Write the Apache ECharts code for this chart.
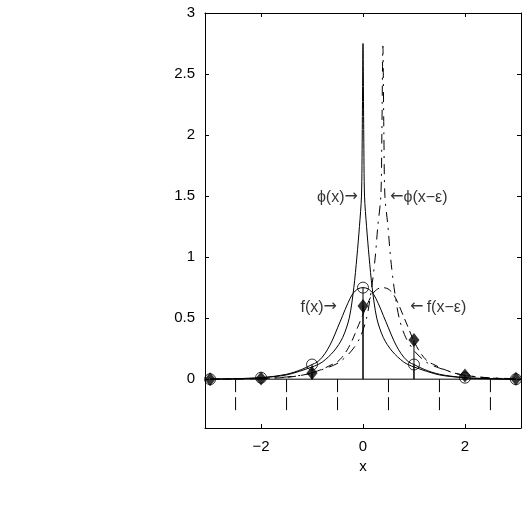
<!DOCTYPE html>
<html>
<head>
<meta charset="utf-8">
<script src="https://cdn.jsdelivr.net/npm/echarts@6/dist/echarts.min.js"></script>
<style>
  html, body { margin: 0; padding: 0; background: #fff; }
  #chart { width: 529px; height: 532px; }
</style>
</head>
<body>
<div id="chart"></div>
<script>
  // phi(x), solid, cusp at 0
  const phiX = [-3, -2.5, -2, -1.5, -1, -0.8, -0.57, -0.4, -0.27, -0.18, -0.12, -0.07, -0.03, -0.015, 0,
    0.015, 0.03, 0.07, 0.12, 0.18, 0.27, 0.4, 0.57, 0.8, 1, 1.5, 2, 2.5, 3]
  const phiY = [0, 0.004, 0.012, 0.035, 0.1, 0.14, 0.23, 0.34, 0.5, 0.75, 1.0, 1.25, 1.5, 2.0, 2.75,
    2.0, 1.5, 1.25, 1.0, 0.75, 0.5, 0.34, 0.23, 0.14, 0.1, 0.035, 0.012, 0.004, 0]

  // phi(x - eps), dash-dot, cusp near 0.39
  const phiShiftX = [-3, -2.11, -1.61, -1.11, -0.66, -0.46, -0.23, -0.06, 0.07, 0.17, 0.24, 0.29, 0.35, 0.37, 0.39,
    0.41, 0.43, 0.49, 0.54, 0.61, 0.71, 0.84, 1.01, 1.24, 1.44, 1.89, 2.39, 2.89, 3]
  const phiShiftY = [0, 0.005, 0.014, 0.04, 0.1, 0.14, 0.23, 0.34, 0.5, 0.75, 1.0, 1.25, 1.5, 2.0, 2.73,
    2.0, 1.5, 1.25, 1.0, 0.75, 0.5, 0.34, 0.23, 0.14, 0.1, 0.04, 0.014, 0.005, 0.004]

  // f(x), solid bell
  const fX = [-3, -2.5, -2, -1.5, -1.2, -1, -0.9, -0.8, -0.7, -0.6, -0.5, -0.4, -0.3, -0.2, -0.1, 0,
    0.1, 0.2, 0.3, 0.4, 0.5, 0.6, 0.7, 0.8, 0.9, 1, 1.2, 1.5, 2, 2.5, 3]
  const fY = [0, 0.004, 0.012, 0.04, 0.08, 0.12, 0.14, 0.18, 0.24, 0.32, 0.42, 0.52, 0.62, 0.7, 0.74, 0.75,
    0.74, 0.7, 0.62, 0.52, 0.42, 0.32, 0.24, 0.18, 0.14, 0.12, 0.08, 0.04, 0.012, 0.004, 0]

  // f(x - eps), dashed bell
  const fShiftX = [-3, -2.5, -2, -1.5, -1.11, -0.81, -0.61, -0.51, -0.41, -0.31, -0.21, -0.11, -0.01, 0.09, 0.19, 0.29,
    0.39, 0.49, 0.59, 0.69, 0.79, 0.89, 0.99, 1.09, 1.19, 1.29, 1.39, 1.59, 1.89, 2.39, 2.89, 3]
  const fShiftY = [0, 0.002, 0.006, 0.015, 0.04, 0.08, 0.12, 0.14, 0.18, 0.24, 0.32, 0.42, 0.52, 0.62, 0.7, 0.74,
    0.75, 0.74, 0.7, 0.62, 0.52, 0.42, 0.32, 0.24, 0.18, 0.14, 0.12, 0.08, 0.04, 0.012, 0.004, 0.003]

  // samples at the integers
  const sampleX = [-3, -2, -1, 0, 1, 2, 3]
  const circleY = [0, 0.012, 0.12, 0.75, 0.12, 0.012, 0]
  const diamondY = [0, 0.005, 0.05, 0.6, 0.32, 0.03, 0.003]

  // baseline and half-integer marks
  const baseX = [-3, 3]
  const halfX = [-2.5, -1.5, -0.5, 0.5, 1.5, 2.5]
  const halfDepth = -0.27

  const xTicks = [-2, 0, 2]
  const yTicks = [0, 0.5, 1, 1.5, 2, 2.5, 3]

  // annotation texts: x, y, rich text, side
  const notes = [
    [-0.1, 1.49, '{t|ϕ(x)}{a|→}', 'left'],
    [0.53, 1.49, '{a|←}{t|ϕ(x−ε)}', 'right'],
    [-0.51, 0.59, '{t|f(x)}{a|→}', 'left'],
    [0.92, 0.59, '{a|←} {t|f(x−ε)}', 'right']
  ]

  const font = 'Liberation Sans, Arial, Helvetica, sans-serif'
  const zip = (xs, ys) => xs.map((x, i) => [x, ys[i]])
  const minus = v => String(v).replace('-', '\u2212')

  function stem (params, api) {
    const p0 = api.coord([api.value(0), 0])
    const p1 = api.coord([api.value(0), api.value(1)])
    return {
      type: 'line',
      shape: {x1: p0[0], y1: p0[1], x2: p1[0], y2: p1[1]},
      style: {stroke: '#000', lineWidth: 1}
    }
  }

  function halfMark (params, api) {
    const p0 = api.coord([api.value(0), 0])
    const p1 = api.coord([api.value(0), api.value(1)])
    return {
      type: 'line',
      shape: {x1: p0[0], y1: p0[1], x2: p1[0], y2: p1[1]},
      style: {stroke: '#000', lineWidth: 1, lineDash: [13, 5]}
    }
  }

  const boxAxis = {
    type: 'value',
    axisLine: {show: true, onZero: false, lineStyle: {color: '#000', width: 1}},
    splitLine: {show: false},
    axisTick: {inside: true, length: 4, lineStyle: {color: '#000'}},
    axisLabel: {show: false}
  }

  const lineBase = {type: 'line', showSymbol: false, smooth: 0.3, silent: true}

  const myChart = echarts.init(document.getElementById('chart'))
  myChart.setOption({
    animation: false,
    backgroundColor: '#fff',
    grid: {left: 205, right: 8, top: 13, bottom: 104},
    xAxis: [
      Object.assign({}, boxAxis, {
        min: -3.1, max: 3.1, position: 'bottom',
        axisTick: {inside: true, length: 4, customValues: xTicks, lineStyle: {color: '#000'}},
        axisLabel: {show: true, customValues: xTicks, formatter: minus, margin: 11,
          color: '#000', fontSize: 15, fontFamily: font},
        name: 'x', nameLocation: 'middle', nameGap: 30,
        nameTextStyle: {color: '#000', fontSize: 15, fontFamily: font}
      }),
      Object.assign({}, boxAxis, {
        min: -3.1, max: 3.1, position: 'top',
        axisTick: {inside: true, length: 4, customValues: xTicks, lineStyle: {color: '#000'}}
      })
    ],
    yAxis: [
      Object.assign({}, boxAxis, {
        min: -0.4, max: 3, position: 'left',
        axisTick: {inside: true, length: 4, customValues: yTicks, lineStyle: {color: '#000'}},
        axisLabel: {show: true, customValues: yTicks, formatter: minus, margin: 10,
          color: '#000', fontSize: 15, fontFamily: font}
      }),
      Object.assign({}, boxAxis, {
        min: -0.4, max: 3, position: 'right',
        axisTick: {inside: true, length: 4, customValues: yTicks, lineStyle: {color: '#000'}}
      })
    ],
    series: [
      Object.assign({}, lineBase, {name: 'baseline', smooth: false, data: baseX.map(x => [x, 0]),
        lineStyle: {color: '#000', width: 1}}),
      {type: 'custom', name: 'half', renderItem: halfMark, data: halfX.map(x => [x, halfDepth]), silent: true},
      Object.assign({}, lineBase, {name: 'phi(x)', data: zip(phiX, phiY),
        lineStyle: {color: '#000', width: 1}}),
      Object.assign({}, lineBase, {name: 'phi(x-eps)', data: zip(phiShiftX, phiShiftY),
        lineStyle: {color: '#000', width: 1, type: [10, 6, 2, 6]}}),
      Object.assign({}, lineBase, {name: 'f(x)', data: zip(fX, fY),
        lineStyle: {color: '#000', width: 1}}),
      Object.assign({}, lineBase, {name: 'f(x-eps)', data: zip(fShiftX, fShiftY),
        lineStyle: {color: '#000', width: 1, type: [8, 5]}}),
      {type: 'custom', name: 'stemCircle', renderItem: stem, data: zip(sampleX, circleY), silent: true},
      {type: 'custom', name: 'stemDiamond', renderItem: stem, data: zip(sampleX, diamondY), silent: true},
      {type: 'scatter', name: 'f(k)', data: zip(sampleX, circleY), symbol: 'circle', symbolSize: 11,
        itemStyle: {color: 'transparent', borderColor: '#000', borderWidth: 1}, z: 5, silent: true},
      {type: 'scatter', name: 'f(k-eps)', data: zip(sampleX, diamondY), symbol: 'diamond', symbolSize: [11, 14],
        itemStyle: {color: '#000'}, z: 6, silent: true},
      {type: 'scatter', name: 'notes', symbolSize: 0, silent: true,
        data: notes.map(n => ({
          value: [n[0], n[1]],
          label: {show: true, position: n[3], distance: 0, formatter: n[2],
            rich: {
              t: {color: '#000', fontSize: 16, fontFamily: font},
              a: {color: '#000', fontSize: 16, fontFamily: 'DejaVu Sans'}
            }}
        }))}
    ]
  })
</script>
</body>
</html>
